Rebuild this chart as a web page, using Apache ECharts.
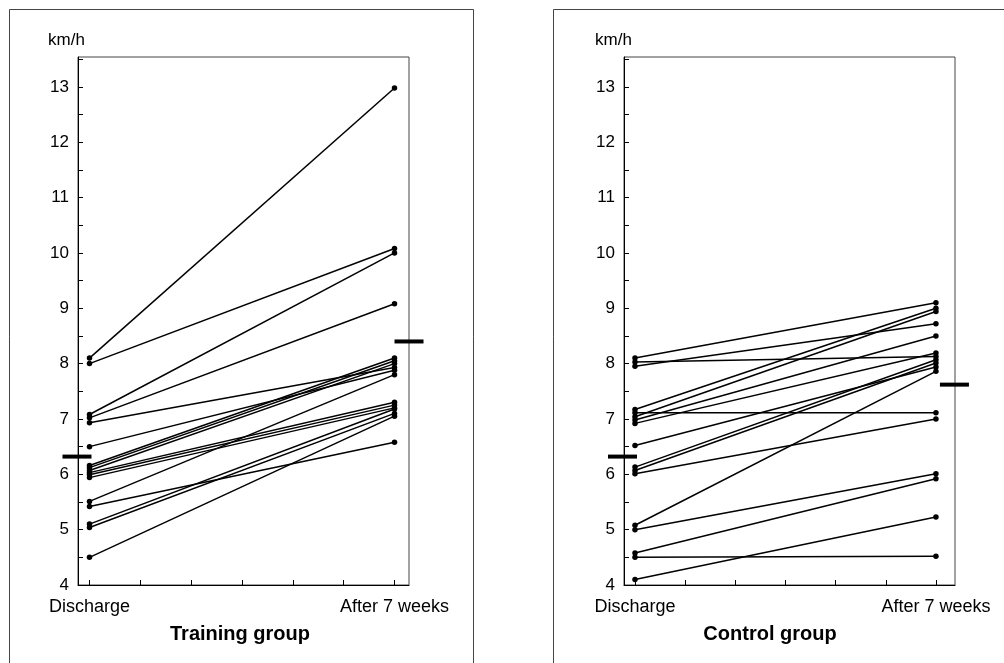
<!DOCTYPE html>
<html>
<head>
<meta charset="utf-8">
<script src="https://cdn.jsdelivr.net/npm/echarts@6/dist/echarts.min.js"></script>
<style>
html,body{margin:0;padding:0;background:#fff;}
#chart{width:1004px;height:663px;}
</style>
</head>
<body>
<div id="chart"></div>
<script>
// ---- data ----
const xLabels = ['Discharge', 'After 7 weeks'];
const xPositions = [0, 6];
const xTicks = [0, 1, 2, 3, 4, 5, 6];
const yTickLabels = [4, 5, 6, 7, 8, 9, 10, 11, 12, 13];
const yMinorTicks = [4, 4.5, 5, 5.5, 6, 6.5, 7, 7.5, 8, 8.5, 9, 9.5, 10, 10.5, 11, 11.5, 12, 12.5, 13, 13.5];
const panelTitles = ['Training group', 'Control group'];
const unitLabel = 'km/h';

const trainDischarge = [8.1, 8.0, 7.08, 7.02, 6.93, 6.5, 6.16, 6.12, 6.07, 6.03, 5.99, 5.94, 5.51, 5.42, 5.1, 5.04, 4.5];
const trainAfter     = [12.98, 10.08, 10.0, 9.08, 7.93, 7.88, 8.1, 8.05, 8.0, 7.3, 7.25, 7.2, 7.8, 6.58, 7.18, 7.1, 7.05];
const trainMeans = [6.32, 8.4];

const controlDischarge = [8.1, 8.03, 7.95, 7.17, 7.11, 7.04, 6.98, 6.92, 6.52, 6.13, 6.07, 6.01, 5.08, 5.0, 4.58, 4.5, 4.1];
const controlAfter     = [9.1, 8.13, 8.72, 9.0, 7.11, 8.94, 8.5, 8.19, 7.94, 8.07, 8.01, 7.0, 7.86, 6.01, 5.92, 4.52, 5.23];
const controlMeans = [6.32, 7.62];

// ---- layout ----
const FONT = '"Liberation Sans", Arial, sans-serif';
const panels = [
  {left: 78, xMin: -0.226, xMax: 6.285, disc: trainDischarge, after: trainAfter, means: trainMeans, barDx: [-27, 0]},
  {left: 624, xMin: -0.219, xMax: 6.38, disc: controlDischarge, after: controlAfter, means: controlMeans, barDx: [-27, 4]}
];
const gridTop = 57, gridH = 528, gridW = 331;
const yMin = 4, yMax = 4 + gridH / 55.35;

const grids = [], xAxes = [], yAxes = [], series = [];
panels.forEach((p, i) => {
  grids.push({left: p.left, top: gridTop, width: gridW, height: gridH, show: true,
    borderColor: '#444', borderWidth: 1, backgroundColor: 'transparent'});
  xAxes.push({
    type: 'value', gridIndex: i, min: p.xMin, max: p.xMax,
    axisLine: {show: true, onZero: false, lineStyle: {color: '#000', width: 1}},
    splitLine: {show: false},
    axisTick: {show: true, inside: true, length: 5, lineStyle: {color: '#000'}, customValues: xTicks},
    axisLabel: {show: true, customValues: xPositions, margin: 13, color: '#000', fontSize: 18, fontFamily: FONT,
      formatter: v => xLabels[xPositions.indexOf(Math.round(v))] || ''}
  });
  yAxes.push({
    type: 'value', gridIndex: i, min: yMin, max: yMax,
    axisLine: {show: true, onZero: false, lineStyle: {color: '#000', width: 1}},
    splitLine: {show: false},
    axisTick: {show: true, inside: true, length: 5, lineStyle: {color: '#000'}, customValues: yMinorTicks},
    axisLabel: {show: true, customValues: yTickLabels, margin: 9, color: '#000', fontSize: 17, fontFamily: FONT,
      formatter: v => String(Math.round(v))}
  });
  p.disc.forEach((d, k) => {
    series.push({
      type: 'line', xAxisIndex: i, yAxisIndex: i,
      data: [[xPositions[0], d], [xPositions[1], p.after[k]]],
      symbol: 'circle', symbolSize: 5.5, showSymbol: true,
      itemStyle: {color: '#000'}, lineStyle: {color: '#000', width: 1.5},
      animation: false, silent: true
    });
  });
  // group means: short thick bars at each end
  series.push({
    type: 'custom', xAxisIndex: i, yAxisIndex: i, clip: false, silent: true, animation: false, z: 5,
    data: p.means.map((m, k) => [xPositions[k], m, k]),
    renderItem: (params, api) => {
      const pt = api.coord([api.value(0), api.value(1)]);
      const k = api.value(2);
      return {type: 'rect', shape: {x: pt[0] + p.barDx[k], y: pt[1] - 2, width: 29, height: 4}, style: {fill: '#000'}};
    }
  });
});

const chart = echarts.init(document.getElementById('chart'), null, {renderer: 'canvas'});
chart.setOption({
  animation: false,
  backgroundColor: '#fff',
  grid: grids, xAxis: xAxes, yAxis: yAxes, series: series,
  graphic: [
    {type: 'rect', shape: {x: 9.5, y: 9.5, width: 464, height: 700}, style: {fill: 'none', stroke: '#444', lineWidth: 1}, silent: true},
    {type: 'rect', shape: {x: 553.5, y: 9.5, width: 470, height: 700}, style: {fill: 'none', stroke: '#444', lineWidth: 1}, silent: true},
    {type: 'text', left: 48, top: 32, style: {text: unitLabel, fontSize: 17, fill: '#000', fontFamily: FONT}},
    {type: 'text', left: 595, top: 32, style: {text: unitLabel, fontSize: 17, fill: '#000', fontFamily: FONT}},
    {type: 'text', x: 240, y: 634, style: {text: panelTitles[0], fontSize: 20, fontWeight: 'bold', fill: '#000', fontFamily: FONT, align: 'center', verticalAlign: 'middle'}},
    {type: 'text', x: 770, y: 634, style: {text: panelTitles[1], fontSize: 20, fontWeight: 'bold', fill: '#000', fontFamily: FONT, align: 'center', verticalAlign: 'middle'}}
  ]
});
</script>
</body>
</html>
